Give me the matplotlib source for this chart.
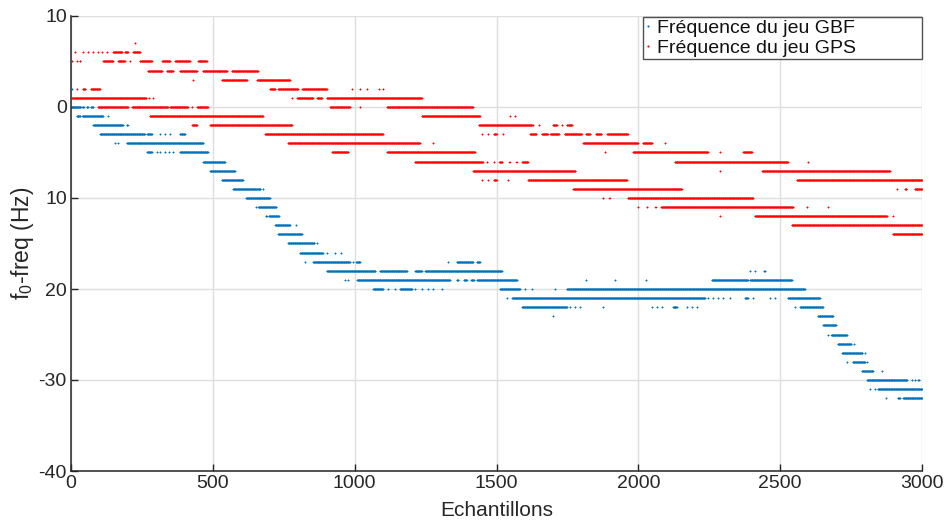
import numpy as np
import matplotlib
matplotlib.use("Agg")
import matplotlib.pyplot as plt

plt.rcParams['font.family'] = ['Liberation Sans', 'DejaVu Sans']
plt.rcParams['mathtext.fontset'] = 'custom'
plt.rcParams['mathtext.rm'] = 'Liberation Sans'
plt.rcParams['mathtext.it'] = 'Liberation Sans'

# ---------------- data (levels in Hz, runs of sample indices) ----------------
gbf_levels = [2, 0, -1, -2, -3, -4, -5, -6, -7, -8, -9, -10, -11, -12, -13, -14,
              -15, -16, -17, -18, -19, -20, -21, -22, -23, -24, -25, -26, -27,
              -28, -29, -30, -31, -32]
gbf_runs = [
    [(3, 4)],
    [(0, 34), (40, 45), (55, 60), (70, 78)],
    [(20, 32), (40, 113), (130, 131)],
    [(78, 183), (197, 200)],
    [(102, 260), (268, 285), (314, 315), (331, 332), (349, 350), (384, 402)],
    [(155, 156), (166, 167), (197, 466)],
    [(268, 285), (303, 304), (314, 315), (331, 332), (345, 346), (360, 361), (384, 483)],
    [(466, 543)],
    [(490, 578)],
    [(532, 606)],
    [(571, 668), (677, 678)],
    [(617, 701)],
    [(652, 653), (660, 723)],
    [(687, 690), (697, 733)],
    [(719, 772), (793, 794)],
    [(730, 814)],
    [(765, 858), (867, 868)],
    [(807, 888), (902, 903), (930, 931), (952, 953)],
    [(825, 826), (853, 983), (994, 995), (1005, 1019), (1329, 1330), (1360, 1417), (1431, 1442)],
    [(902, 1072), (1089, 1184), (1213, 1237), (1248, 1519), (2393, 2394), (2411, 2412), (2443, 2446)],
    [(966, 967), (977, 978), (1008, 1336), (1360, 1365), (1385, 1395), (1410, 1420), (1431, 1572),
     (1815, 1816), (1918, 1919), (2027, 2028), (2259, 2386), (2393, 2541)],
    [(1065, 1100), (1117, 1118), (1142, 1143), (1160, 1202), (1213, 1214), (1237, 1238), (1258, 1259),
     (1276, 1277), (1308, 1309), (1512, 1583), (1600, 1601), (1625, 1626), (1706, 1707), (1748, 2587)],
    [(1537, 1538), (1555, 2235), (2245, 2246), (2263, 2264), (2281, 2282), (2298, 2299), (2323, 2324),
     (2376, 2386), (2404, 2405), (2464, 2465), (2481, 2482), (2527, 2640)],
    [(1590, 1748), (1759, 1760), (1776, 1777), (1794, 1795), (1875, 1876), (2048, 2049), (2065, 2066),
     (2083, 2084), (2122, 2136), (2171, 2172), (2189, 2190), (2207, 2208), (2552, 2553), (2570, 2651)],
    [(1698, 1699), (2633, 2686)],
    [(2651, 2697)],
    [(2668, 2669), (2680, 2735)],
    [(2703, 2750), (2760, 2761)],
    [(2718, 2790), (2799, 2800)],
    [(2735, 2736), (2756, 2799), (2806, 2807)],
    [(2788, 2827), (2859, 2860)],
    [(2806, 2947), (2964, 2965), (2975, 2976), (2986, 2989)],
    [(2816, 2817), (2834, 2835), (2844, 3000)],
    [(2873, 2874), (2915, 2922), (2933, 3000)],
]

gps_levels = [7, 6, 5, 4, 3, 2, 1, 0, -1, -2, -3, -4, -5, -6, -7, -8, -9, -10,
              -11, -12, -13, -14]
gps_runs = [
    [(225, 226)],
    [(14, 15), (42, 43), (60, 61), (78, 79), (95, 96), (109, 110), (127, 128), (148, 180),
     (190, 201), (219, 243)],
    [(4, 5), (20, 21), (30, 32), (113, 148), (166, 190), (208, 209), (243, 285), (321, 349),
     (367, 419), (448, 479)],
    [(271, 321), (338, 360), (384, 444), (465, 550), (567, 659)],
    [(430, 431), (532, 620), (656, 772)],
    [(20, 21), (42, 50), (70, 102), (701, 720), (730, 800), (815, 902), (990, 991), (1018, 1019),
     (1043, 1044), (1086, 1087), (1100, 1101)],
    [(3, 265), (275, 276), (289, 290), (779, 780), (797, 853), (867, 885), (902, 1237)],
    [(95, 201), (215, 342), (349, 412), (427, 428), (444, 483), (913, 983), (1018, 1019), (1114, 1417)],
    [(278, 677), (1237, 1442), (1547, 1548), (1565, 1566)],
    [(427, 444), (490, 779), (1438, 1625), (1628, 1629), (1650, 1651), (1699, 1713), (1731, 1732),
     (1748, 1766)],
    [(684, 1100), (1449, 1450), (1470, 1471), (1490, 1500), (1523, 1524), (1618, 1640), (1660, 1680),
     (1690, 1720), (1740, 1800), (1815, 1830), (1850, 1870), (1890, 1963)],
    [(765, 1230), (1276, 1277), (1805, 1999), (2016, 2048), (2094, 2095)],
    [(920, 977), (1114, 1424), (1882, 1883), (1981, 2245), (2288, 2289), (2369, 2400)],
    [(1212, 1452), (1466, 1467), (1490, 1491), (1510, 1520), (1545, 1546), (1570, 1571), (1590, 1611),
     (2129, 2527), (2598, 2599)],
    [(1417, 1777), (2288, 2289), (2436, 2887)],
    [(1449, 1450), (1470, 1471), (1490, 1500), (1540, 1541), (1611, 1960), (2559, 3000)],
    [(1770, 2153), (2912, 2913), (2940, 2945), (2975, 3000)],
    [(1875, 1876), (1898, 1899), (1963, 2404)],
    [(1999, 2000), (2030, 2031), (2060, 2061), (2080, 2545), (2594, 2595), (2668, 2669)],
    [(2288, 2289), (2411, 2876), (2897, 2898)],
    [(2541, 3000)],
    [(2897, 3000)],
]

x_ticks = [0, 500, 1000, 1500, 2000, 2500, 3000]
y_ticks = [-40, -30, -20, -10, 0, 10]
y_tick_labels = ['-40', '-30', '20', '10', '0', '10']
series_names = ['Fréquence du jeu GBF', 'Fréquence du jeu GPS']


def expand(levels, runs):
    xs, ys = [], []
    for lv, rr in zip(levels, runs):
        for s, e in rr:
            idx = np.arange(s, e + 1)
            xs.append(idx)
            ys.append(np.full(idx.shape, lv, dtype=float))
    return np.concatenate(xs), np.concatenate(ys)


gx, gy = expand(gbf_levels, gbf_runs)
px, py = expand(gps_levels, gps_runs)

fig = plt.figure(figsize=(9.47, 5.22), dpi=100)
ax = fig.add_axes([71 / 947, 1 - 471 / 522, (922 - 71) / 947, (471 - 16) / 522])

blue = '#0072BD'
red = '#FF0000'
ax.plot(gx, gy, linestyle='none', marker='o', markersize=1.2, markeredgewidth=0,
        color=blue, label=series_names[0])
ax.plot(px, py, linestyle='none', marker='o', markersize=1.2, markeredgewidth=0,
        color=red, label=series_names[1])

ax.set_xlim(0, 3000)
ax.set_ylim(-40, 10)
ax.set_xticks(x_ticks)
ax.set_yticks(y_ticks)
ax.set_yticklabels(y_tick_labels)

ax.grid(True, color='#dedede', linewidth=1.0)
ax.set_axisbelow(True)
for sp in ['top', 'right']:
    ax.spines[sp].set_visible(False)
for sp in ['left', 'bottom']:
    ax.spines[sp].set_color('#262626')
    ax.spines[sp].set_linewidth(1.1)
ax.tick_params(direction='in', length=5, width=1.0, color='#262626',
               labelsize=14, labelcolor='#262626', pad=3)

ax.set_xlabel('Echantillons', fontsize=15, color='#262626', labelpad=6)
ax.set_ylabel(r'f$_{\mathrm{0}}$-freq (Hz)', fontsize=16.5, color='#262626', labelpad=2)

leg = ax.legend(loc='upper right', fontsize=14, frameon=True, fancybox=False,
                bbox_to_anchor=((643 - 71) / 851, 1 - 43 / 455, (922 - 643) / 851, 42 / 455),
                mode='expand', borderaxespad=0.0, handlelength=0.3, handletextpad=0.3,
                borderpad=0.12, labelspacing=0.12, markerscale=1.3)
leg.get_frame().set_edgecolor('#262626')
leg.get_frame().set_linewidth(1.0)
for t in leg.get_texts():
    t.set_color('#111111')

fig.savefig('out.png', dpi=100)
